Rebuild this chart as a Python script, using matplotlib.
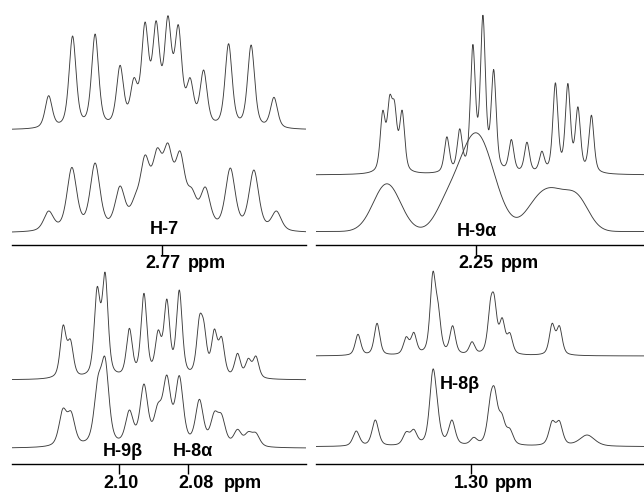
import numpy as np
import matplotlib
matplotlib.use("Agg")
from matplotlib import pyplot as plt

plt.rcParams['font.family'] = ['Liberation Sans', 'DejaVu Sans']

PX = 3467.0  # pixels per ppm in the original figure

# ---- H-7 (top left) ----
h7_xlim = (2.81327, 2.72847)
h7_top_ppm = [2.8027, 2.7958, 2.7893, 2.7821, 2.7781, 2.7749, 2.7717, 2.7683,
              2.7653, 2.7619, 2.7580, 2.7508, 2.7443, 2.7377]
h7_top_int = [34.3, 94, 96, 64.7, 52.3, 108, 109.3, 114.3, 105.3, 52.3, 60,
              86.3, 85, 32.7]
h7_bot_ppm = [2.8027, 2.7960, 2.7893, 2.7821, 2.7778, 2.7749, 2.7714, 2.7683,
              2.7648, 2.7614, 2.7575, 2.7503, 2.7435, 2.7370]
h7_bot_int = [22, 65.6, 70, 47, 38, 78, 85, 90, 82, 45, 46, 65, 63, 22]

# ---- H-9a (top right) ----
h9a_xlim = (2.29615, 2.20154)
h9a_top_ppm = [2.2769, 2.2749, 2.2735, 2.2713, 2.2584, 2.2547, 2.2509, 2.2480,
               2.2449, 2.2398, 2.2353, 2.2310, 2.2271, 2.2235, 2.2206, 2.2167]
h9a_top_int = [64.5, 79.8, 73.8, 64.8, 38.2, 46.2, 130.5, 159.8, 105.5, 35.5,
               32.8, 23.8, 92.2, 91.5, 68.2, 59.8]
# broad humps of the lower trace (gaussian: centre, height, sigma)
h9a_bot_ppm = [2.2757, 2.2589, 2.2500, 2.2330, 2.2278, 2.2209]
h9a_bot_int = [47.7, 16, 98.4, 20, 33, 32]
h9a_bot_sig = [0.00392, 0.00317, 0.00513, 0.00346, 0.00375, 0.00346]

# ---- H-9b / H-8a (bottom left) ----
h98_xlim = (2.13086, 2.04606)
h98_top_ppm = [2.1161, 2.1140, 2.1063, 2.1040, 2.0970, 2.0928, 2.0887, 2.0862,
               2.0826, 2.0768, 2.0755, 2.0725, 2.0704, 2.0658, 2.0627, 2.0605]
h98_top_int = [55, 40.7, 93.3, 107.7, 51.7, 86.7, 50, 81, 90, 64.3, 58.3, 51,
               43.3, 26.7, 21.7, 24]
h98_bot_ppm = [2.1162, 2.1149, 2.1138, 2.1061, 2.1040, 2.0970, 2.0928, 2.0888,
               2.0862, 2.0826, 2.0768, 2.0725, 2.0704, 2.0658, 2.0627, 2.0605]
h98_bot_int = [39, 35, 36, 71.7, 91, 38.3, 64.3, 45, 73.3, 72.7, 49, 36.7,
               34.3, 19, 16.7, 15.7]

# ---- H-8b (bottom right) ----
h8b_xlim = (1.34471, 1.25010)
h8b_top_ppm = [1.3326, 1.3271, 1.3187, 1.3165, 1.3110, 1.3095, 1.3053, 1.2997,
               1.2944, 1.2933, 1.2910, 1.2888, 1.2766, 1.2745]
h8b_top_int = [21.7, 32.7, 19.3, 23.7, 84.3, 54.3, 30.3, 14.3, 56.7, 61, 38.3,
               23.3, 32.7, 30.3]
h8b_bot_ppm = [1.3331, 1.3276, 1.3187, 1.3165, 1.3110, 1.3098, 1.3055, 1.2992,
               1.2944, 1.2932, 1.2911, 1.2888, 1.2766, 1.2745, 1.2665]
h8b_bot_int = [15.7, 26.7, 15, 17.4, 77.4, 50, 26.7, 9.4, 51.7, 59.4, 33.4,
               18.4, 26, 26, 11.7]
h8b_bot_hw = [3.9] * 14 + [9.0]


def shape(d, hw):
    # pseudo-voigt line, unit height
    u = d / hw
    return 0.5 / (1.0 + u ** 2) + 0.5 * np.exp(-np.log(2) * u ** 2)


def lineshape(x, pos, hts, hw_px):
    pos = np.array(pos)
    hts = np.array(hts, dtype=float)
    hw = np.broadcast_to(np.array(hw_px, dtype=float) / PX, pos.shape)
    m = shape(pos[:, None] - pos[None, :], hw[None, :])
    amp = np.clip(np.linalg.solve(m, hts), 0, None)
    return (amp[None, :] * shape(x[:, None] - pos[None, :], hw[None, :])).sum(axis=1)


def gauss(x, pos, hts, sig):
    pos, hts, sig = np.array(pos), np.array(hts), np.array(sig)
    return (hts[None, :] * np.exp(-0.5 * ((x[:, None] - pos[None, :]) / sig[None, :]) ** 2)).sum(axis=1)


fig = plt.figure(figsize=(6.44, 4.93), dpi=100)
W, H = 644.0, 493.0


def panel(x0, x1, yline, ytop, xlim):
    ax = fig.add_axes([x0 / W, (H - yline) / H, (x1 - x0) / W, (yline - ytop) / H])
    ax.set_xlim(*xlim)
    ax.set_ylim(0, yline - ytop)
    for s in ['top', 'left', 'right']:
        ax.spines[s].set_visible(False)
    ax.spines['bottom'].set_linewidth(1.0)
    ax.set_yticks([])
    ax.tick_params(axis='x', direction='out', length=7, width=1.0, labelbottom=False)
    ax.patch.set_alpha(0)
    return ax


lc = '#3c3c3c'
lw = 0.65
tf = dict(fontsize=13, fontweight='bold', clip_on=False)

# top left
ax = panel(12, 306, 245, 0, h7_xlim)
x = np.linspace(*h7_xlim, 1500)
ax.plot(x, 115 + lineshape(x, h7_top_ppm, h7_top_int, 4.2), color=lc, lw=lw)
ax.plot(x, 12 + lineshape(x, h7_bot_ppm, h7_bot_int, 5.8), color=lc, lw=lw)
ax.set_xticks([2.77])
ax.text(2.7693, 10.5, 'H-7', ha='center', va='baseline', **tf)
ax.text(2.7697, -23.3, '2.77', ha='center', va='baseline', **tf)
ax.text(2.7627, -23.3, 'ppm', ha='left', va='baseline', **tf)

# top right
ax = panel(316, 644, 245, 0, h9a_xlim)
x = np.linspace(*h9a_xlim, 1500)
ax.plot(x, 70 + lineshape(x, h9a_top_ppm, h9a_top_int, 3.0), color=lc, lw=lw)
ax.plot(x, 13.5 + gauss(x, h9a_bot_ppm, h9a_bot_int, h9a_bot_sig), color=lc, lw=lw)
ax.set_xticks([2.25])
ax.text(2.2497, 9.5, 'H-9\u03b1', ha='center', va='baseline', **tf)
ax.text(2.2499, -23.3, '2.25', ha='center', va='baseline', **tf)
ax.text(2.2429, -23.3, 'ppm', ha='left', va='baseline', **tf)

# bottom left
ax = panel(12, 306, 464, 250, h98_xlim)
x = np.linspace(*h98_xlim, 1500)
ax.plot(x, 84 + lineshape(x, h98_top_ppm, h98_top_int, 3.5), color=lc, lw=lw)
ax.plot(x, 15.7 + lineshape(x, h98_bot_ppm, h98_bot_int, 4.6), color=lc, lw=lw)
ax.set_xticks([2.10, 2.08])
ax.text(2.0988, 8, 'H-9\u03b2', ha='center', va='baseline', **tf)
ax.text(2.0787, 8, 'H-8\u03b1', ha='center', va='baseline', **tf)
ax.text(2.0994, -24.3, '2.10', ha='center', va='baseline', **tf)
ax.text(2.0779, -24.3, '2.08', ha='center', va='baseline', **tf)
ax.text(2.0698, -24.3, 'ppm', ha='left', va='baseline', **tf)

# bottom right
ax = panel(316, 644, 464, 250, h8b_xlim)
x = np.linspace(*h8b_xlim, 1500)
ax.plot(x, 108 + lineshape(x, h8b_top_ppm, h8b_top_int, 3.3), color=lc, lw=lw)
ax.plot(x, 17.3 + lineshape(x, h8b_bot_ppm, h8b_bot_int, h8b_bot_hw), color=lc, lw=lw)
ax.set_xticks([1.30])
ax.text(1.3032, 74.7, 'H-8\u03b2', ha='center', va='baseline', **tf)
ax.text(1.2999, -24.3, '1.30', ha='center', va='baseline', **tf)
ax.text(1.2932, -24.3, 'ppm', ha='left', va='baseline', **tf)

fig.savefig('out.png', dpi=100)
